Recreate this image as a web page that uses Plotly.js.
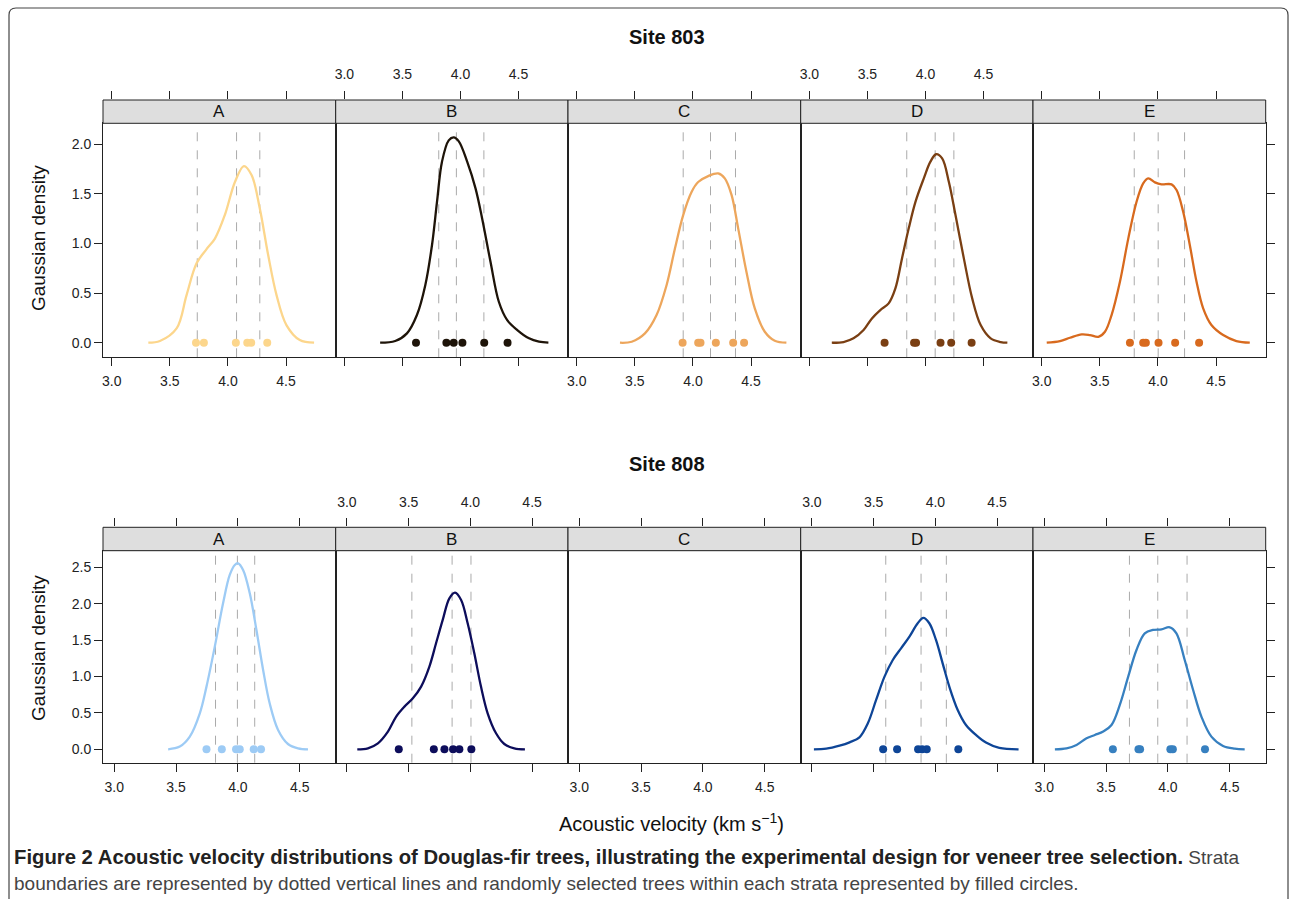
<!DOCTYPE html>
<html>
<head>
<meta charset="utf-8">
<script src="https://cdn.plot.ly/plotly-3.0.1.min.js"></script>
<style>html,body{margin:0;padding:0;background:#fff;}#chart{width:1290px;height:903px;}</style>
</head>
<body>
<div id="chart"></div>
<script>
// ---------------- DATA ----------------
const panelLetters = ['A', 'B', 'C', 'D', 'E'];
const siteTitles = ['Site 803', 'Site 808'];
const xTickVals = [3.0, 3.5, 4.0, 4.5];
const xTickText = ['3.0', '3.5', '4.0', '4.5'];
const yTickVals803 = [0, 0.5, 1.0, 1.5, 2.0];
const yTickText803 = ['0.0', '0.5', '1.0', '1.5', '2.0'];
const yTickVals808 = [0, 0.5, 1.0, 1.5, 2.0, 2.5];
const yTickText808 = ['0.0', '0.5', '1.0', '1.5', '2.0', '2.5'];

// Site 803 densities (velocity km/s, density)
const s803A_v = [3.315,3.415,3.558,3.644,3.730,3.816,3.888,3.974,4.06,4.137,4.203,4.274,4.346,4.418,4.503,4.618,4.741];
const s803A_d = [0,0.017,0.144,0.48,0.80,0.944,1.05,1.29,1.62,1.78,1.69,1.354,0.884,0.48,0.178,0.027,0];
const s803A_strata = [3.736, 4.074, 4.274];
const s803A_trees = [3.725, 3.793, 4.068, 4.166, 4.20, 4.338];

const s803B_v = [3.308,3.438,3.539,3.625,3.697,3.755,3.798,3.841,3.899,3.942,3.986,4.058,4.13,4.187,4.259,4.331,4.403,4.49,4.591,4.677,4.758];
const s803B_d = [0,0.017,0.094,0.279,0.58,0.985,1.42,1.825,2.04,2.07,2.03,1.825,1.556,1.253,0.817,0.413,0.228,0.128,0.044,0.01,0];
const s803B_strata = [3.813, 3.965, 4.202];
const s803B_trees = [3.617, 3.879, 3.942, 4.017, 4.205, 4.406];

const s803C_v = [3.372,3.473,3.587,3.687,3.773,3.845,3.916,3.988,4.045,4.131,4.217,4.274,4.332,4.389,4.46,4.532,4.618,4.704,4.804];
const s803C_d = [0,0.01,0.094,0.279,0.58,0.95,1.287,1.52,1.62,1.68,1.707,1.657,1.49,1.153,0.716,0.346,0.111,0.02,0];
const s803C_strata = [3.916, 4.151, 4.366];
const s803C_trees = [3.911, 4.045, 4.065, 4.197, 4.346, 4.44];

const s803D_v = [3.193,3.294,3.38,3.467,3.539,3.611,3.683,3.741,3.798,3.856,3.914,3.986,4.043,4.092,4.144,4.202,4.259,4.331,4.403,4.476,4.562,4.648,4.706];
const s803D_d = [0,0.007,0.044,0.128,0.245,0.329,0.397,0.548,0.85,1.153,1.42,1.657,1.825,1.90,1.858,1.62,1.287,0.85,0.447,0.178,0.044,0.007,0];
const s803D_strata = [3.839, 4.084, 4.245];
const s803D_trees = [3.648, 3.902, 3.919, 4.13, 4.222, 4.398];

const s803E_v = [3.043,3.157,3.243,3.344,3.415,3.487,3.544,3.601,3.673,3.745,3.816,3.873,3.916,3.974,4.031,4.117,4.16,4.217,4.274,4.332,4.389,4.46,4.561,4.675,4.79];
const s803E_d = [0,0.017,0.05,0.084,0.077,0.06,0.111,0.279,0.615,1.052,1.421,1.606,1.657,1.616,1.596,1.596,1.539,1.32,0.985,0.615,0.346,0.178,0.077,0.017,0];
const s803E_strata = [3.796, 4.002, 4.229];
const s803E_trees = [3.759, 3.873, 3.896, 4.005, 4.148, 4.354];

// Site 808 densities
const s808A_v = [3.436,3.53,3.611,3.692,3.746,3.813,3.88,3.934,3.975,4.002,4.042,4.096,4.15,4.204,4.257,4.325,4.405,4.486,4.567];
const s808A_d = [0,0.037,0.174,0.494,0.861,1.41,2.005,2.395,2.532,2.555,2.463,2.143,1.639,1.09,0.632,0.266,0.073,0.014,0];
const s808A_strata = [3.819, 3.996, 4.136];
const s808A_trees = [3.746, 3.87, 3.985, 4.015, 4.128, 4.187];

const s808B_v = [3.084,3.17,3.251,3.332,3.399,3.466,3.534,3.601,3.668,3.722,3.776,3.83,3.876,3.925,3.978,4.032,4.086,4.14,4.208,4.275,4.356,4.442];
const s808B_d = [0,0.014,0.082,0.243,0.449,0.586,0.70,0.861,1.136,1.456,1.777,2.074,2.152,2.051,1.731,1.319,0.861,0.495,0.22,0.073,0.014,0];
const s808B_strata = [3.526, 3.852, 4.005];
const s808B_trees = [3.42, 3.704, 3.79, 3.86, 3.911, 4.008];

const s808C_v = [];
const s808C_d = [];
const s808C_strata = [];
const s808C_trees = [];

const s808D_v = [3.016,3.116,3.224,3.305,3.385,3.453,3.52,3.588,3.655,3.722,3.79,3.857,3.903,3.951,4.005,4.059,4.113,4.181,4.248,4.329,4.41,4.518,4.674];
const s808D_d = [0,0.009,0.05,0.096,0.165,0.357,0.678,0.998,1.227,1.387,1.548,1.731,1.804,1.731,1.502,1.181,0.861,0.54,0.334,0.197,0.092,0.018,0];
const s808D_strata = [3.598, 3.884, 4.089];
const s808D_trees = [3.577, 3.69, 3.86, 3.892, 3.93, 4.186];

const s808E_v = [3.086,3.18,3.261,3.342,3.409,3.477,3.544,3.611,3.679,3.746,3.813,3.88,3.948,4.015,4.069,4.136,4.204,4.271,4.352,4.446,4.54,4.621];
const s808E_d = [0,0.014,0.06,0.151,0.197,0.243,0.334,0.609,0.998,1.364,1.593,1.639,1.648,1.676,1.593,1.227,0.815,0.449,0.174,0.046,0.009,0];
const s808E_strata = [3.689, 3.918, 4.155];
const s808E_trees = [3.555, 3.762, 3.775, 4.02, 4.04, 4.30];

// ---------------- STYLE ----------------
const colors803 = ['#FCD68C', '#1E1409', '#EDA65C', '#7A3F13', '#D86A1E'];
const colors808 = ['#9DCBF5', '#0D0D5B', '#888888', '#0E4597', '#3780C0'];

const rows = [
  {
    panels: [
      [s803A_v, s803A_d, s803A_strata, s803A_trees],
      [s803B_v, s803B_d, s803B_strata, s803B_trees],
      [s803C_v, s803C_d, s803C_strata, s803C_trees],
      [s803D_v, s803D_d, s803D_strata, s803D_trees],
      [s803E_v, s803E_d, s803E_strata, s803E_trees]
    ],
    colors: colors803, yTickVals: yTickVals803, yTickText: yTickText803,
    xRange: [2.925, 4.927], yRange: [-0.147, 2.212],
    plotTop: 123.3, plotBot: 357.3, stripTop: 100, titleY: 37, yTitleY: 238
  },
  {
    panels: [
      [s808A_v, s808A_d, s808A_strata, s808A_trees],
      [s808B_v, s808B_d, s808B_strata, s808B_trees],
      [s808C_v, s808C_d, s808C_strata, s808C_trees],
      [s808D_v, s808D_d, s808D_strata, s808D_trees],
      [s808E_v, s808E_d, s808E_strata, s808E_trees]
    ],
    colors: colors808, yTickVals: yTickVals808, yTickText: yTickText808,
    xRange: [2.909, 4.791], yRange: [-0.184, 2.728],
    plotTop: 550.7, plotBot: 762.7, stripTop: 527.3, titleY: 464, yTitleY: 648
  }
];

const W = 1290, H = 903;
const fx = px => px / W;
const fy = py => 1 - py / H;
const panelEdges = [103, 335.7, 568, 800.7, 1033, 1265.7];
const FONT = '"Liberation Sans", Arial, Helvetica, sans-serif';
const AX = '#222222';

const traces = [];
const shapes = [];
const annotations = [];
const layout = {
  width: W, height: H, autosize: false,
  margin: {l: 0, r: 0, t: 0, b: 0, pad: 0},
  paper_bgcolor: '#ffffff', plot_bgcolor: '#ffffff',
  showlegend: false,
  font: {family: FONT, size: 14, color: AX}
};

rows.forEach((row, r) => {
  const stripYId = 21 + r; // y21, y22 : strip axes
  layout['yaxis' + stripYId] = {
    domain: [fy(row.plotTop), fy(row.stripTop)], range: [0, 1],
    anchor: 'x' + (11 + r * 5),
    showline: false, showticklabels: false, ticks: '', showgrid: false, zeroline: false, fixedrange: true
  };
  row.panels.forEach((p, i) => {
    const n = r * 5 + i + 1;          // panel axis id
    const t = 10 + r * 5 + i + 1;     // top tick axis id
    const dom = [fx(panelEdges[i]), fx(panelEdges[i + 1])];
    layout['xaxis' + n] = {
      domain: dom, range: row.xRange, anchor: 'y' + n, side: 'bottom',
      showline: true, mirror: true, linecolor: AX, linewidth: 1,
      ticks: 'outside', ticklen: 8, tickcolor: AX, tickwidth: 1, ticklabelstandoff: 3,
      tickvals: xTickVals, ticktext: xTickText, showticklabels: i % 2 === 0,
      tickfont: {family: FONT, size: 14, color: AX},
      showgrid: false, zeroline: false, fixedrange: true
    };
    layout['yaxis' + n] = {
      domain: [fy(row.plotBot), fy(row.plotTop)], range: row.yRange, anchor: 'x' + n,
      side: i === 4 ? 'right' : 'left',
      showline: true, mirror: true, linecolor: AX, linewidth: 1,
      ticks: (i === 0 || i === 4) ? 'outside' : '', ticklen: 8, tickcolor: AX, tickwidth: 1,
      tickvals: row.yTickVals, ticktext: row.yTickText, showticklabels: i === 0,
      tickfont: {family: FONT, size: 14, color: AX},
      showgrid: false, zeroline: false, fixedrange: true
    };
    layout['xaxis' + t] = {
      domain: dom, range: row.xRange, anchor: 'y' + stripYId, side: 'top',
      showline: false, ticks: 'outside', ticklen: 8, tickcolor: AX, tickwidth: 1, ticklabelstandoff: 6,
      tickvals: xTickVals, ticktext: xTickText, showticklabels: i % 2 === 1,
      tickfont: {family: FONT, size: 14, color: AX},
      showgrid: false, zeroline: false, fixedrange: true
    };
    // invisible placeholders so every subplot (also the empty one) exists
    traces.push({x: [], y: [], xaxis: 'x' + t, yaxis: 'y' + stripYId, type: 'scatter', mode: 'lines', hoverinfo: 'skip'});
    traces.push({x: [], y: [], xaxis: 'x' + n, yaxis: 'y' + n, type: 'scatter', mode: 'lines', hoverinfo: 'skip'});

    // strip
    shapes.push({type: 'rect', xref: 'paper', yref: 'paper',
      x0: dom[0], x1: dom[1], y0: fy(row.plotTop), y1: fy(row.stripTop),
      fillcolor: '#dedede', line: {color: AX, width: 1}, layer: 'above'});
    annotations.push({xref: 'paper', yref: 'paper', x: (dom[0] + dom[1]) / 2,
      y: (fy(row.plotTop) + fy(row.stripTop)) / 2, text: panelLetters[i], showarrow: false,
      xanchor: 'center', yanchor: 'middle', font: {family: FONT, size: 17, color: '#111'}});

    const [v, d, strata, trees] = p;
    const col = row.colors[i];
    strata.forEach(s => shapes.push({type: 'line', xref: 'x' + n, yref: 'y' + n + ' domain',
      x0: s, x1: s, y0: 0, y1: 0.985, line: {color: '#aaaaaa', width: 1, dash: 'dash'}, layer: 'below'}));
    if (v.length) {
      traces.push({x: v, y: d, xaxis: 'x' + n, yaxis: 'y' + n, type: 'scatter', mode: 'lines',
        line: {color: col, width: 2.3, shape: 'spline', smoothing: 1}, hoverinfo: 'skip'});
      traces.push({x: trees, y: trees.map(() => 0), xaxis: 'x' + n, yaxis: 'y' + n, type: 'scatter', mode: 'markers',
        marker: {color: col, size: 8, line: {width: 0}}, hoverinfo: 'skip'});
    }
  });
  annotations.push({xref: 'paper', yref: 'paper', x: fx(667), y: fy(row.titleY), text: '<b>' + siteTitles[r] + '</b>',
    showarrow: false, xanchor: 'center', yanchor: 'middle', font: {family: FONT, size: 20, color: '#111'}});
  annotations.push({xref: 'paper', yref: 'paper', x: fx(38), y: fy(row.yTitleY), text: 'Gaussian density',
    showarrow: false, textangle: -90, xanchor: 'center', yanchor: 'middle', font: {family: FONT, size: 19, color: '#111'}});
});

annotations.push({xref: 'paper', yref: 'paper', x: fx(671), y: fy(822),
  text: 'Acoustic velocity (km s<sup>\u22121</sup>)', showarrow: false, xanchor: 'center', yanchor: 'middle',
  font: {family: FONT, size: 20, color: '#111'}});

const CAP = '"Liberation Sans", Arial, sans-serif';
annotations.push({xref: 'paper', yref: 'paper', x: fx(12), y: fy(857),
  text: '<b>Figure 2 Acoustic velocity distributions of Douglas-fir trees, illustrating the experimental design for veneer tree selection.</b><span style="font-size:19px;color:#444"> Strata</span>',
  showarrow: false, xanchor: 'left', yanchor: 'middle', font: {family: CAP, size: 20.3, color: '#222'}});
annotations.push({xref: 'paper', yref: 'paper', x: fx(12), y: fy(883),
  text: 'boundaries are represented by dotted vertical lines and randomly selected trees within each strata represented by filled circles.',
  showarrow: false, xanchor: 'left', yanchor: 'middle', font: {family: CAP, size: 19, color: '#444'}});

// outer rounded frame
const fl = 9, ft = 8, fr = 1288, fb = 899, rad = 7;
shapes.push({type: 'path', xref: 'paper', yref: 'paper', layer: 'above',
  path: `M ${fx(fl)} ${fy(fb)} L ${fx(fl)} ${fy(ft + rad)} Q ${fx(fl)} ${fy(ft)} ${fx(fl + rad)} ${fy(ft)} L ${fx(fr - rad)} ${fy(ft)} Q ${fx(fr)} ${fy(ft)} ${fx(fr)} ${fy(ft + rad)} L ${fx(fr)} ${fy(fb)}`,
  line: {color: '#444', width: 1.2}});

layout.shapes = shapes;
layout.annotations = annotations;

Plotly.newPlot('chart', traces, layout, {displayModeBar: false, staticPlot: true});
</script>
</body>
</html>
